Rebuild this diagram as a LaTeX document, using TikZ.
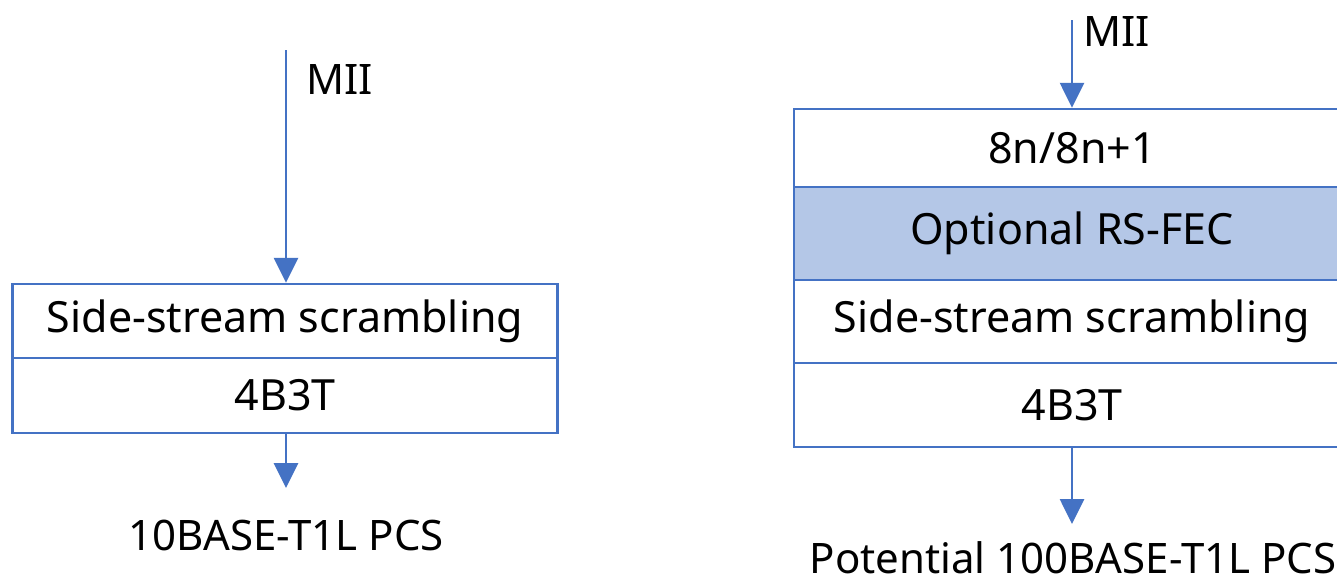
\documentclass[tikz,border=0pt]{standalone}
\usepackage{fontspec}
\setmainfont{Noto Sans}
\usetikzlibrary{arrows.meta}
\definecolor{lineblue}{HTML}{4472C4}
\definecolor{fillblue}{HTML}{B4C7E7}
\tikzset{
  row/.style={draw=lineblue, line width=2.5pt, rectangle, inner sep=0pt, font=\fontsize{43}{48}\selectfont},
  arr/.style={draw=lineblue, line width=2.8pt, -{Triangle[width=24pt,length=25pt]}},
  lbl/.style={inner sep=0pt, font=\fontsize{42}{48}\selectfont}
}
\begin{document}
\begin{tikzpicture}[x=1pt,y=-1pt]
\useasboundingbox (0,0) rectangle (1337,581);
\fill[white] (0,0) rectangle (1337,581);
% left stack
\node[row, minimum width=545pt, minimum height=74pt] (L1) at (285,321) {Side-stream scrambling};
\node[row, minimum width=545pt, minimum height=75pt] (L2) at (285,395.5) {4B3T};
\coordinate (lin) at (286,50);
\coordinate (lout) at (286,488);
\draw[arr] (lin) -- (lin |- L1.north);
\draw[arr] (lout |- L2.south) -- (lout);
\node[lbl, anchor=base west] (lmii) at (306,94) {MII};
\node[lbl, anchor=base] (lpcs) at (286,550) {10BASE-T1L PCS};
% right stack
\node[row, minimum width=556pt, minimum height=78pt] (R1) at (1072,148) {8n/8n+1};
\node[row, fill=fillblue, minimum width=556pt, minimum height=93pt] (R2) at (1072,233.5) {Optional RS-FEC};
\node[row, minimum width=556pt, minimum height=83pt] (R3) at (1072,321.5) {Side-stream scrambling};
\node[row, minimum width=556pt, minimum height=84pt] (R4) at (1072,405) {4B3T};
\coordinate (rin) at (1072,20);
\coordinate (rout) at (1072,524);
\draw[arr] (rin) -- (rin |- R1.north);
\draw[arr] (rout |- R4.south) -- (rout);
\node[lbl, anchor=base west] (rmii) at (1083,46) {MII};
\node[lbl, anchor=base] (rpcs) at (1073,573) {Potential 100BASE-T1L PCS};
\end{tikzpicture}
\end{document}
